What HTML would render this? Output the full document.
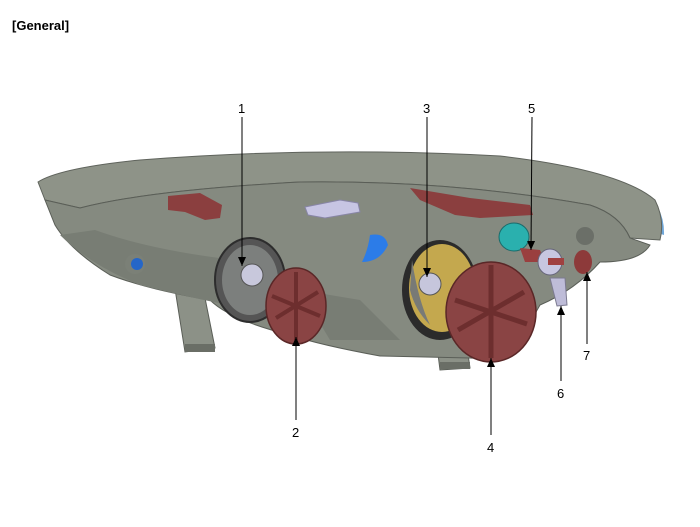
<!DOCTYPE html>
<html><head><style>
body{margin:0;background:#fff;}
svg{display:block}
text{font-family:"Liberation Sans",sans-serif;font-size:13px;fill:#000}
</style></head><body>
<svg width="700" height="527" viewBox="0 0 700 527" xmlns="http://www.w3.org/2000/svg">
<defs><marker id="a" markerWidth="9" markerHeight="8" refX="9" refY="4" orient="auto" markerUnits="userSpaceOnUse"><path d="M0,0 L9,4 L0,8 Z" fill="#000"/></marker></defs>
<text x="12" y="30" style="font-weight:bold">[General]</text>
<!-- legs (behind body) -->
<path d="M172,270 L200,273 L215,348 L185,352Z" fill="#8c9187" stroke="#5a5e57"/>
<rect x="185" y="344" width="30" height="8" fill="#6a6e66"/>
<path d="M435,330 L465,333 L470,368 L440,370Z" fill="#8c9187" stroke="#5a5e57"/>
<rect x="440" y="362" width="30" height="7" fill="#6a6e66"/>
<!-- lens blue edge -->
<path d="M330,154 Q520,150 640,190 Q665,205 664,235 L655,232 Q650,200 600,180 Q470,160 330,158Z" fill="#6fa6d8"/>
<!-- top lens rim -->
<path d="M38,182 Q60,168 140,160 Q320,146 500,156 Q620,170 655,200 Q665,220 660,240 L630,238 Q620,215 590,205 Q450,180 300,182 Q150,190 80,208 L45,200Z" fill="#8e9388" stroke="#5f635c" stroke-width="1"/>
<!-- body -->
<path d="M45,200 L80,208 Q150,190 300,182 Q450,180 590,205 Q620,215 630,238 L650,245 Q640,262 600,262 Q575,290 540,305 L520,340 Q490,360 470,358 L380,356 Q320,345 290,335 Q230,320 210,300 Q150,290 110,275 Q70,250 55,225Z" fill="#858a80" stroke="#5a5e57" stroke-width="1"/>
<path d="M60,235 Q90,265 140,285 Q200,300 230,305 L235,260 Q150,250 95,230Z" fill="#787d74"/>
<path d="M300,290 L360,300 L400,340 L330,340Z" fill="#787d74"/>
<!-- red brackets top -->
<path d="M168,196 L200,193 L222,205 L220,218 L205,220 L185,212 L168,210Z" fill="#8b3f3f"/>
<path d="M410,188 L470,198 L530,205 L533,215 L480,218 L455,215 L420,200Z" fill="#8b3f3f"/>
<path d="M305,207 L340,200 L358,203 L360,212 L325,218 L308,215Z" fill="#c7c5e3" stroke="#8885a6"/>
<circle cx="135" cy="264" r="10" fill="#7b8077"/>
<circle cx="137" cy="264" r="6" fill="#2566c8"/>
<!-- left bulb opening -->
<ellipse cx="250" cy="280" rx="35" ry="42" fill="#555" stroke="#2d2d2d" stroke-width="2"/>
<ellipse cx="250" cy="280" rx="28" ry="35" fill="#7c7f7d"/>
<circle cx="252" cy="275" r="11" fill="#c8c8dc" stroke="#555"/>
<path d="M370,235 Q385,232 388,245 Q380,262 362,262 Q368,250 370,235Z" fill="#2c7ce8"/>
<!-- mid bulb opening -->
<ellipse cx="440" cy="290" rx="38" ry="50" fill="#2b2b2b"/>
<ellipse cx="442" cy="288" rx="33" ry="44" fill="#c4a84e"/>
<path d="M412,260 Q418,300 430,325 Q415,310 410,290Z" fill="#787a76"/>
<circle cx="430" cy="284" r="11" fill="#c6c6dc" stroke="#555"/>
<ellipse cx="514" cy="237" rx="15" ry="14" fill="#2ab0ae" stroke="#1a6b6a"/>
<path d="M520,248 L540,250 L545,262 L525,262Z" fill="#9a3f3f"/>
<ellipse cx="550" cy="262" rx="12" ry="13" fill="#c7c6e0" stroke="#66657a"/>
<rect x="548" y="258" width="16" height="7" fill="#a04040"/>
<path d="M550,278 L565,278 L567,305 L557,306Z" fill="#bebcd8" stroke="#7c7a90"/>
<ellipse cx="583" cy="262" rx="9" ry="12" fill="#8d3a3a"/>
<circle cx="585" cy="236" r="9" fill="#6b6f68"/>
<!-- caps -->
<ellipse cx="296" cy="306" rx="30" ry="38" fill="#8a4444" stroke="#5a2727" stroke-width="1.5"/>
<path d="M272,296 L320,316 M276,318 L318,292 M296,272 L296,340" stroke="#6d2e2e" stroke-width="4"/>
<ellipse cx="491" cy="312" rx="45" ry="50" fill="#8a4444" stroke="#5a2727" stroke-width="1.5"/>
<path d="M455,300 L527,324 M458,330 L524,292 M491,265 L491,358" stroke="#6d2e2e" stroke-width="5"/>
<!-- leaders -->
<g stroke="#000" stroke-width="1" fill="none">
<line x1="242" y1="117" x2="242" y2="266" marker-end="url(#a)"/>
<line x1="427" y1="117" x2="427" y2="277" marker-end="url(#a)"/>
<line x1="532" y1="117" x2="531" y2="250" marker-end="url(#a)"/>
<line x1="296" y1="420" x2="296" y2="337" marker-end="url(#a)"/>
<line x1="491" y1="435" x2="491" y2="358" marker-end="url(#a)"/>
<line x1="561" y1="381" x2="561" y2="306" marker-end="url(#a)"/>
<line x1="587" y1="344" x2="587" y2="272" marker-end="url(#a)"/>
</g>
<text x="238" y="113">1</text>
<text x="423" y="113">3</text>
<text x="528" y="113">5</text>
<text x="292" y="437">2</text>
<text x="487" y="452">4</text>
<text x="557" y="398">6</text>
<text x="583" y="360">7</text>
</svg>
</body></html>
